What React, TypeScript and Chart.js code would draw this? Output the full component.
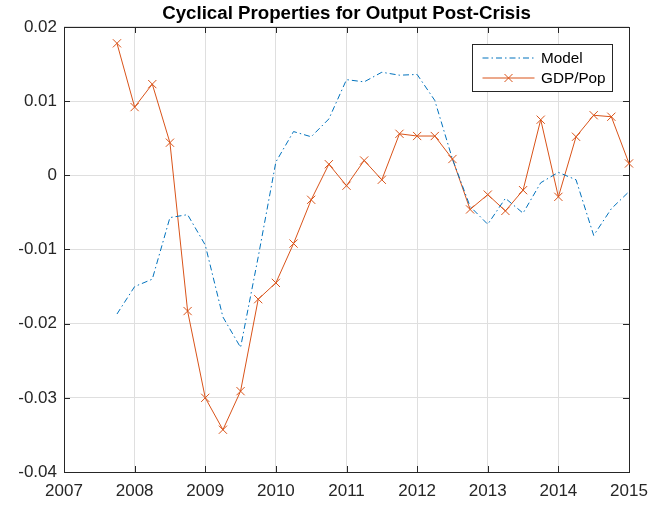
import React, { useEffect, useRef } from "react";
import { Chart, registerables } from "chart.js";

Chart.register(...registerables);

// ---- Data ----
const quarters = [
  2007.75,
  2008, 2008.25, 2008.5, 2008.75,
  2009, 2009.25, 2009.5, 2009.75,
  2010, 2010.25, 2010.5, 2010.75,
  2011, 2011.25, 2011.5, 2011.75,
  2012, 2012.25, 2012.5, 2012.75,
  2013, 2013.25, 2013.5, 2013.75,
  2014, 2014.25, 2014.5, 2014.75,
  2015,
];

const modelValues = [
  -0.0187,
  -0.0150, -0.0140, -0.0057, -0.0053,
  -0.0094, -0.0191, -0.0232, -0.0110,
  0.0018, 0.0059, 0.0052, 0.0076,
  0.0129, 0.0126, 0.0139, 0.0135,
  0.0136, 0.0101, 0.0022, -0.0042,
  -0.0066, -0.0031, -0.0051, -0.0010,
  0.0004, -0.0006, -0.0081, -0.0045,
  -0.0022,
];

const gdpPopValues = [
  0.0178,
  0.0092, 0.0123, 0.0044, -0.0183,
  -0.0300, -0.0343, -0.0291, -0.0167,
  -0.0145, -0.0092, -0.0033, 0.0015,
  -0.0014, 0.0020, -0.0006, 0.0056,
  0.0053, 0.0053, 0.0022, -0.0046,
  -0.0026, -0.0048, -0.0020, 0.0075,
  -0.0029, 0.0052, 0.0081, 0.0079,
  0.0016,
];

const seriesLabels = ["Model", "GDP/Pop"];
const titleText = "Cyclical Properties for Output Post-Crisis";
const xRange = [2007, 2015];
const yRange = [-0.04, 0.02];
const xStep = 1;
const yStep = 0.01;

// ---- Styles ----
const FONT = "'Liberation Sans', Arial, Helvetica, sans-serif";
const AXIS_COLOR = "#262626";
const GRID_COLOR = "#dfdfdf";
const BLUE = "#0072BD";
const ORANGE = "#D95319";
const DASH_DOT = [6, 3, 1.5, 3];

const framePlugin = {
  id: "matlabFrame",
  beforeDatasetsDraw(chart: any) {
    const { ctx, chartArea: a, scales } = chart;
    const tickLen = 6;
    ctx.save();
    ctx.strokeStyle = AXIS_COLOR;
    ctx.lineWidth = 1;
    ctx.beginPath();
    scales.x.ticks.forEach((t: any) => {
      const px = Math.round(scales.x.getPixelForValue(t.value)) + 0.5;
      ctx.moveTo(px, a.bottom);
      ctx.lineTo(px, a.bottom - tickLen);
      ctx.moveTo(px, a.top);
      ctx.lineTo(px, a.top + tickLen);
    });
    scales.y.ticks.forEach((t: any) => {
      const py = Math.round(scales.y.getPixelForValue(t.value)) + 0.5;
      ctx.moveTo(a.left, py);
      ctx.lineTo(a.left + tickLen, py);
      ctx.moveTo(a.right, py);
      ctx.lineTo(a.right - tickLen, py);
    });
    ctx.stroke();
    ctx.strokeRect(
      Math.round(a.left) + 0.5,
      Math.round(a.top) + 0.5,
      Math.round(a.right - a.left),
      Math.round(a.bottom - a.top)
    );
    ctx.restore();
  },
};

const boxLegendPlugin = {
  id: "boxLegend",
  afterDraw(chart: any) {
    const { ctx, chartArea: a } = chart;
    const w = 140;
    const h = 47;
    const bx = Math.round(a.right - 17 - w) + 0.5;
    const by = Math.round(a.top + 17) + 0.5;
    ctx.save();
    ctx.fillStyle = "#ffffff";
    ctx.fillRect(bx, by, w, h);
    ctx.strokeStyle = AXIS_COLOR;
    ctx.lineWidth = 1;
    ctx.strokeRect(bx, by, w, h);
    chart.data.datasets.forEach((ds: any, i: number) => {
      const cy = by + 13.5 + i * 20;
      const x0 = bx + 10;
      const x1 = bx + 62;
      ctx.strokeStyle = ds.borderColor;
      ctx.lineWidth = ds.borderWidth;
      ctx.setLineDash(ds.borderDash || []);
      ctx.beginPath();
      ctx.moveTo(x0, cy);
      ctx.lineTo(x1, cy);
      ctx.stroke();
      ctx.setLineDash([]);
      if (ds.pointRadius > 0) {
        const cx = (x0 + x1) / 2;
        const r = 4;
        ctx.beginPath();
        ctx.moveTo(cx - r, cy - r);
        ctx.lineTo(cx + r, cy + r);
        ctx.moveTo(cx - r, cy + r);
        ctx.lineTo(cx + r, cy - r);
        ctx.stroke();
      }
      ctx.fillStyle = "#000000";
      ctx.font = `15.3px ${FONT}`;
      ctx.textAlign = "left";
      ctx.textBaseline = "middle";
      ctx.fillText(ds.label, bx + 68.5, cy + 0.5);
    });
    ctx.restore();
  },
};

export default function App() {
  const canvasRef = useRef<HTMLCanvasElement | null>(null);

  useEffect(() => {
    if (!canvasRef.current) return;
    const chart = new Chart(canvasRef.current, {
      type: "line",
      data: {
        datasets: [
          {
            label: seriesLabels[0],
            data: quarters.map((q, i) => ({ x: q, y: modelValues[i] })),
            borderColor: BLUE,
            backgroundColor: BLUE,
            borderWidth: 1,
            borderDash: DASH_DOT,
            pointRadius: 0,
            tension: 0,
            fill: false,
            clip: false,
          },
          {
            label: seriesLabels[1],
            data: quarters.map((q, i) => ({ x: q, y: gdpPopValues[i] })),
            borderColor: ORANGE,
            backgroundColor: ORANGE,
            borderWidth: 1,
            pointStyle: "crossRot",
            pointRadius: 5.8,
            pointBorderWidth: 1,
            pointBorderColor: ORANGE,
            tension: 0,
            fill: false,
            clip: false,
          },
        ],
      },
      options: {
        responsive: false,
        animation: false,
        devicePixelRatio: 1,
        layout: { padding: { top: 0, right: 24, bottom: 0, left: 0 } },
        plugins: {
          legend: { display: false },
          tooltip: { enabled: false },
          title: {
            display: true,
            fullSize: false,
            text: titleText,
            color: "#000000",
            font: { family: FONT, size: 18.7, weight: "bold", lineHeight: 1.39 },
            padding: { top: 1, bottom: 0 },
          },
        },
        scales: {
          x: {
            type: "linear",
            min: xRange[0],
            max: xRange[1],
            border: { display: false },
            grid: { color: GRID_COLOR, drawTicks: false, lineWidth: 1 },
            ticks: {
              stepSize: xStep,
              color: AXIS_COLOR,
              font: { family: FONT, size: 17 },
              padding: 9,
              maxRotation: 0,
              callback: (v: any) => String(v),
            },
            afterFit: (s: any) => {
              s.height = 33;
              s.paddingLeft = 0;
              s.paddingRight = 0;
            },
          },
          y: {
            type: "linear",
            min: yRange[0],
            max: yRange[1],
            border: { display: false },
            grid: { color: GRID_COLOR, drawTicks: false, lineWidth: 1 },
            ticks: {
              stepSize: yStep,
              color: AXIS_COLOR,
              font: { family: FONT, size: 17 },
              padding: 7,
              callback: (v: any) => String(parseFloat(Number(v).toFixed(2))),
            },
            afterFit: (s: any) => {
              s.width = 64;
              s.paddingTop = 0;
              s.paddingBottom = 0;
            },
          },
        },
      },
      plugins: [framePlugin, boxLegendPlugin],
    } as any);
    return () => chart.destroy();
  }, []);

  return (
    <div style={{ position: "absolute", left: 0, top: 0, width: 653, height: 505, background: "#fff" }}>
      <canvas ref={canvasRef} width={653} height={505} style={{ display: "block" }} />
    </div>
  );
}
